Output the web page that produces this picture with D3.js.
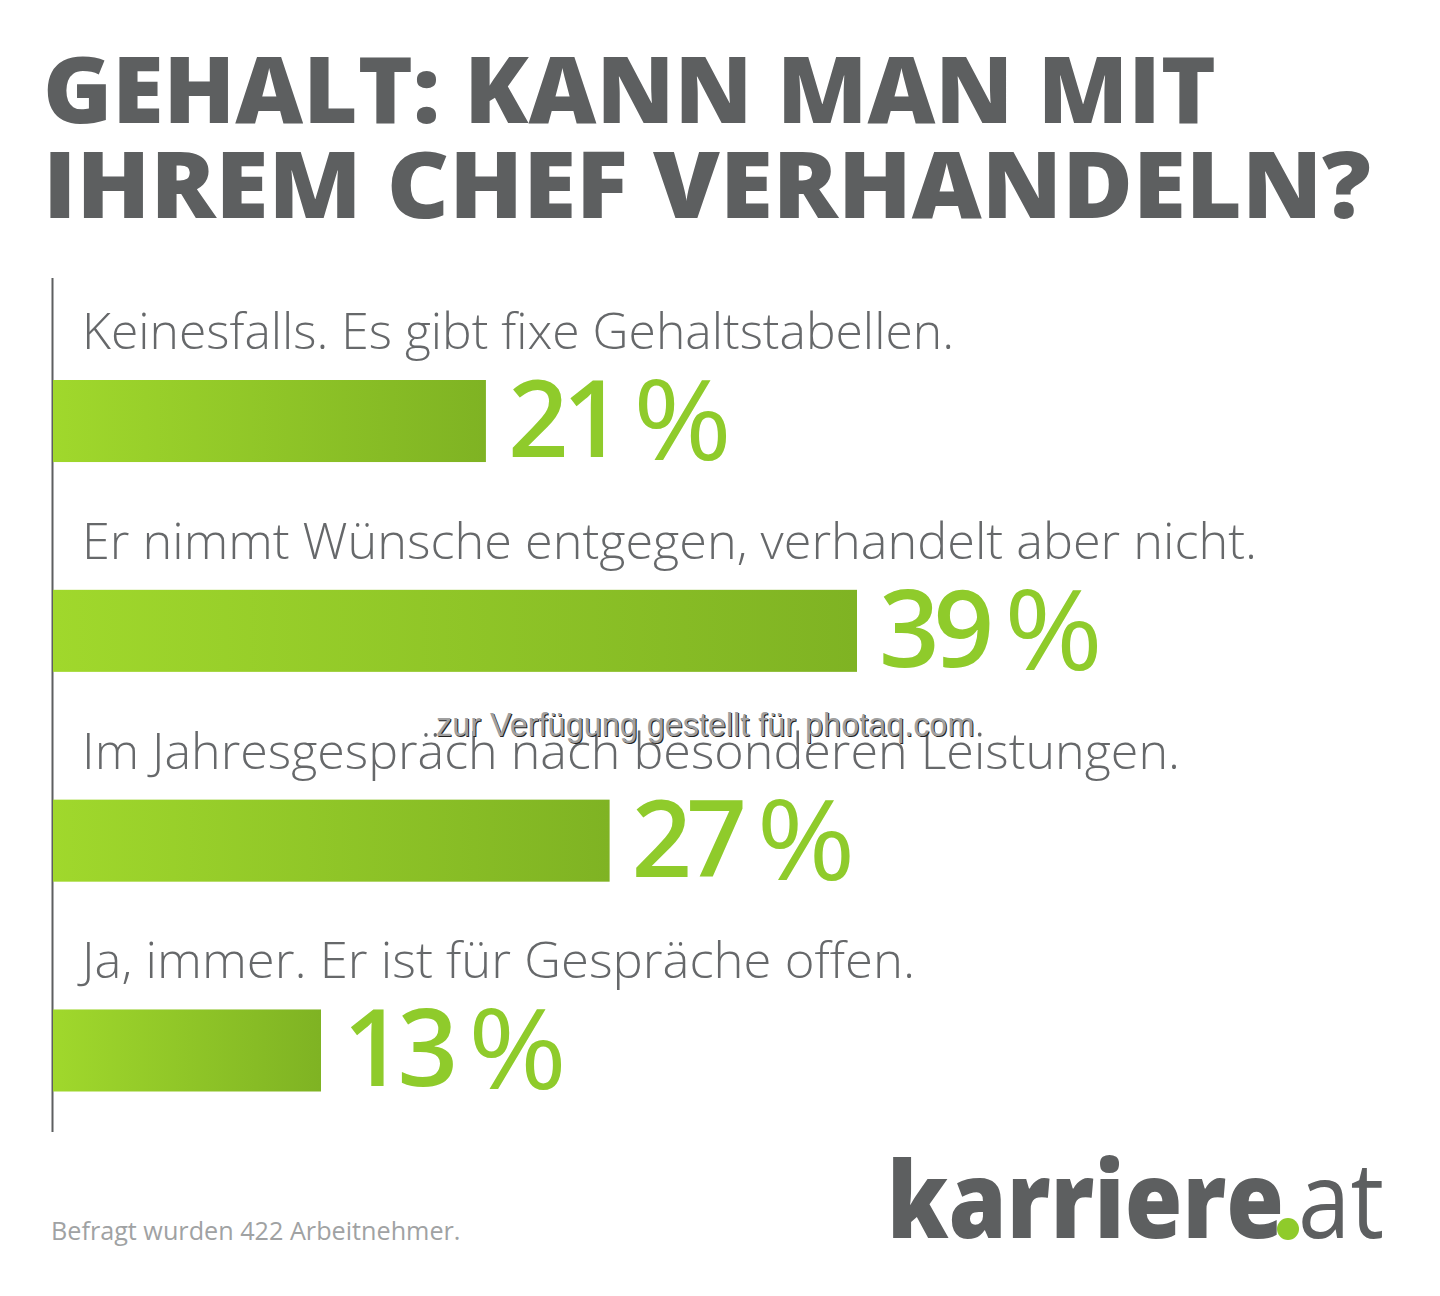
<!DOCTYPE html>
<html>
<head>
<meta charset="utf-8">
<script src="https://cdn.jsdelivr.net/npm/d3@7"></script>
<style>
  html, body { margin: 0; padding: 0; background: #fff; }
  text { font-family: "Open Sans", sans-serif; }
</style>
</head>
<body>
<div id="chart"></div>
<script>
// data
const titleLines = ["GEHALT: KANN MAN MIT", "IHREM CHEF VERHANDELN?"]
const answers = [
  "Keinesfalls. Es gibt fixe Gehaltstabellen.",
  "Er nimmt Wünsche entgegen, verhandelt aber nicht.",
  "Im Jahresgespräch nach besonderen Leistungen.",
  "Ja, immer. Er ist für Gespräche offen."
]
const shares = [21, 39, 27, 13]
const footnote = "Befragt wurden 422 Arbeitnehmer."
const watermark = "zur Verfügung gestellt für photaq.com"

const width = 1440, height = 1296
const grey = "#5d5f60", green = "#8fcb2b"

// the original face is wider than Open Sans, so lines get squeezed to these widths
const titleFit = [1173, 1328]
const answerFit = [872, 1175, 1098, 833]

const svg = d3.select("#chart").append("svg")
  .attr("width", width).attr("height", height)
  .style("display", "block")

const defs = svg.append("defs")
const grad = defs.append("linearGradient").attr("id", "barFill")
grad.append("stop").attr("offset", "0%").attr("stop-color", "#a0d82c")
grad.append("stop").attr("offset", "100%").attr("stop-color", "#7fb323")

// scales
const x = d3.scaleLinear().domain([0, 39]).range([53, 857])
const y = d3.scaleBand().domain(answers).range([380, 1091.5]).paddingInner(0.609)

// title
svg.selectAll(".title").data(titleLines).join("text")
  .attr("class", "title")
  .attr("x", 43)
  .attr("y", (d, i) => 123 + i * 95)
  .attr("font-size", 92)
  .attr("font-weight", 800)
  .attr("fill", grey)
  .attr("textLength", (d, i) => titleFit[i])
  .attr("lengthAdjust", "spacingAndGlyphs")
  .text(d => d)

// baseline
svg.append("line")
  .attr("x1", 52.5).attr("x2", 52.5)
  .attr("y1", 278).attr("y2", 1132)
  .attr("stroke", grey).attr("stroke-width", 2)

// bars
svg.selectAll(".bar").data(answers).join("rect")
  .attr("class", "bar")
  .attr("x", x(0))
  .attr("y", d => y(d))
  .attr("width", (d, i) => x(shares[i]) - x(0))
  .attr("height", y.bandwidth())
  .attr("fill", "url(#barFill)")

// answer labels
svg.selectAll(".answer").data(answers).join("text")
  .attr("class", "answer")
  .attr("x", 82)
  .attr("y", d => y(d) - 31)
  .attr("font-size", 50.5)
  .attr("font-weight", 300)
  .attr("fill", "#66686a")
  .attr("textLength", (d, i) => answerFit[i])
  .attr("lengthAdjust", "spacingAndGlyphs")
  .text(d => d)

// value labels
svg.selectAll(".value").data(answers).join("text")
  .attr("class", "value")
  .attr("x", (d, i) => x(shares[i]) + 22)
  .attr("y", d => y(d) + 77)
  .attr("font-size", 106)
  .attr("font-weight", 600)
  .attr("letter-spacing", -6)
  .attr("fill", green)
  .text((d, i) => shares[i])

// percent sign is its own text, larger, lighter and wider than the digits
svg.selectAll(".pct").data(answers).join("text")
  .attr("class", "pct")
  .attr("x", (d, i) => x(shares[i]) + 147)
  .attr("y", d => y(d) + 80)
  .attr("font-size", 112)
  .attr("font-weight", 500)
  .attr("fill", green)
  .attr("textLength", 99)
  .attr("lengthAdjust", "spacingAndGlyphs")
  .text("%")

// footnote
svg.append("text")
  .attr("x", 51).attr("y", 1240)
  .attr("font-size", 25.2).attr("font-weight", 400)
  .attr("fill", "#a0a2a3")
  .text(footnote)

// logo
svg.append("text").attr("x", 887).attr("y", 1238)
  .attr("font-size", 106).attr("font-weight", 800).attr("fill", grey)
  .attr("textLength", 397).attr("lengthAdjust", "spacingAndGlyphs")
  .text("karriere")
svg.append("text").attr("x", 1298).attr("y", 1238)
  .attr("font-size", 106).attr("font-weight", 400).attr("fill", grey)
  .attr("textLength", 86).attr("lengthAdjust", "spacingAndGlyphs")
  .text("at")
svg.append("circle").attr("cx", 1288).attr("cy", 1229).attr("r", 11).attr("fill", green)

// watermark, dark copy behind for the bevel look
svg.selectAll(".mark").data([["#222", 1], ["#a0a0a0", 0]]).join("text")
  .attr("class", "mark")
  .attr("x", d => 436 + d[1])
  .attr("y", d => 736 + d[1])
  .style("font-family", "'Liberation Sans', sans-serif")
  .attr("font-size", 32.4)
  .attr("fill", d => d[0])
  .text(watermark)
</script>
</body>
</html>
